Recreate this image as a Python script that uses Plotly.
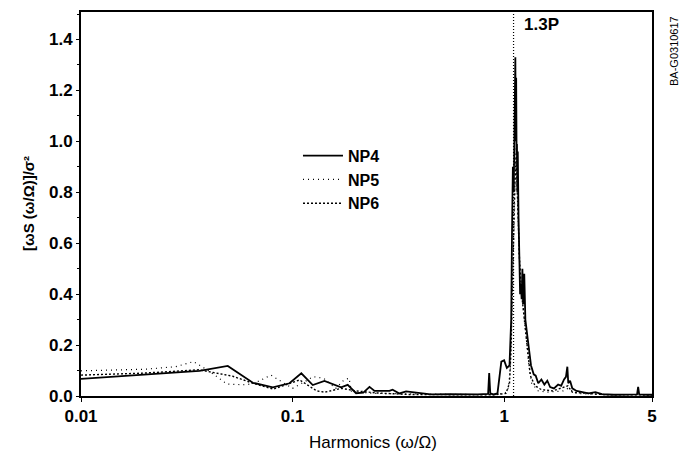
import math
import plotly.graph_objects as go

# Normalised spectra  [omega*S(omega/Omega)]/sigma^2  versus harmonic number omega/Omega
np4_harmonic = [0.01, 0.0363, 0.0494, 0.0649, 0.0807, 0.0967, 0.110, 0.1246, 0.1415, 0.1695,
                0.1823, 0.1996, 0.216, 0.231, 0.244, 0.287, 0.297, 0.320, 0.344, 0.397,
                0.45, 0.55, 0.65, 0.75, 0.84, 0.85, 0.86, 0.89, 0.93, 0.95,
                0.97, 1.00, 1.03, 1.06, 1.08, 1.09, 1.10, 1.11, 1.12, 1.13,
                1.135, 1.14, 1.145, 1.15, 1.155, 1.16, 1.17, 1.18, 1.19, 1.20,
                1.21, 1.22, 1.23, 1.245, 1.26, 1.29, 1.32, 1.34, 1.38, 1.41,
                1.45, 1.5, 1.55, 1.6, 1.65, 1.72, 1.8, 1.86, 1.92, 1.96,
                1.99, 2.01, 2.05, 2.1, 2.2, 2.35, 2.5, 2.7, 2.9, 3.3,
                4.0, 4.25, 4.3, 4.35, 4.8, 5.0]
np4_value = [0.067, 0.099, 0.118, 0.052, 0.034, 0.050, 0.089, 0.043, 0.059, 0.034,
             0.044, 0.011, 0.013, 0.036, 0.020, 0.020, 0.025, 0.010, 0.018, 0.013,
             0.006, 0.007, 0.005, 0.006, 0.008, 0.090, 0.010, 0.006, 0.010, 0.080,
             0.135, 0.140, 0.110, 0.120, 0.300, 0.650, 0.900, 0.800, 1.100, 1.330,
             1.000, 1.250, 0.950, 0.990, 0.800, 0.960, 0.700, 0.550, 0.400, 0.440,
             0.380, 0.500, 0.360, 0.480, 0.300, 0.230, 0.150, 0.120, 0.085, 0.080,
             0.050, 0.065, 0.045, 0.060, 0.035, 0.030, 0.045, 0.040, 0.065, 0.075,
             0.115, 0.050, 0.060, 0.030, 0.020, 0.015, 0.010, 0.015, 0.007, 0.005,
             0.006, 0.006, 0.036, 0.006, 0.005, 0.005]

np5_harmonic = [0.01, 0.02, 0.028, 0.034, 0.040, 0.049, 0.060, 0.066, 0.079, 0.100,
                0.118, 0.125, 0.140, 0.160, 0.175, 0.185, 0.190, 0.25, 0.4, 0.6,
                0.9, 1.0, 1.04, 1.07, 1.09, 1.11, 1.13, 1.14, 1.15, 1.17,
                1.19, 1.22, 1.25, 1.28, 1.31, 1.35, 1.45, 1.6, 1.9, 2.0,
                2.2, 3.0, 5.0]
np5_value = [0.099, 0.105, 0.115, 0.135, 0.100, 0.047, 0.044, 0.050, 0.082, 0.030,
             0.063, 0.076, 0.070, 0.030, 0.063, 0.070, 0.016, 0.010, 0.008, 0.006,
             0.005, 0.010, 0.020, 0.100, 0.350, 0.700, 0.900, 0.980, 0.850, 0.600,
             0.450, 0.380, 0.300, 0.200, 0.120, 0.050, 0.020, 0.015, 0.020, 0.030,
             0.010, 0.005, 0.005]

np6_harmonic = [0.01, 0.02, 0.036, 0.052, 0.065, 0.081, 0.090, 0.108, 0.130, 0.142,
                0.170, 0.200, 0.25, 0.35, 0.6, 0.9, 1.02, 1.06, 1.08, 1.10,
                1.12, 1.14, 1.16, 1.18, 1.21, 1.24, 1.27, 1.30, 1.33, 1.4,
                1.5, 1.7, 2.0, 2.1, 3.0, 5.0]
np6_value = [0.082, 0.090, 0.103, 0.078, 0.050, 0.027, 0.040, 0.063, 0.020, 0.015,
             0.030, 0.020, 0.012, 0.006, 0.005, 0.005, 0.010, 0.050, 0.200, 0.500,
             0.800, 0.950, 0.750, 0.550, 0.400, 0.320, 0.250, 0.150, 0.080, 0.040,
             0.025, 0.020, 0.040, 0.015, 0.005, 0.004]

x_tick_values = [0.01, 0.1, 1, 5]
x_tick_labels = ["0.01", "0.1", "1", "5"]
y_tick_values = [0.0, 0.2, 0.4, 0.6, 0.8, 1.0, 1.2, 1.4]

marker_harmonic = 1.108      # vertical reference line labelled "1.3P"
marker_label = "1.3P"

FONT = "Liberation Sans, Arial, Helvetica, sans-serif"

fig = go.Figure()
fig.add_trace(go.Scatter(x=np4_harmonic, y=np4_value, name="<b>NP4</b>", mode="lines",
                         line=dict(color="black", width=1.8)))
fig.add_trace(go.Scatter(x=np5_harmonic, y=np5_value, name="<b>NP5</b>", mode="lines",
                         line=dict(color="black", width=1.2, dash="1px,4px")))
fig.add_trace(go.Scatter(x=np6_harmonic, y=np6_value, name="<b>NP6</b>", mode="lines",
                         line=dict(color="black", width=1.4, dash="2px,2px")))

# dotted reference line at the marked harmonic
fig.add_trace(go.Scatter(x=[marker_harmonic, marker_harmonic], y=[0, 1.508],
                         mode="lines", showlegend=False, hoverinfo="skip",
                         line=dict(color="black", width=1.2, dash="1px,2px")))

fig.add_annotation(x=math.log10(marker_harmonic), y=1.46, xref="x", yref="y",
                   text=f"<b>{marker_label}</b>", showarrow=False,
                   xanchor="left", yanchor="middle", xshift=8,
                   font=dict(family=FONT, size=17, color="black"))

fig.add_annotation(x=1.0, y=1.0, xref="paper", yref="paper",
                   text="BA-G0310617", showarrow=False, textangle=-90,
                   xanchor="left", yanchor="top", xshift=14, yshift=-2,
                   font=dict(family=FONT, size=11, color="black"))

# axis titles placed as annotations so the plot frame keeps its size
fig.add_annotation(x=0.511, y=0, xref="paper", yref="paper",
                   text="Harmonics (\u03c9/\u03a9)", showarrow=False,
                   xanchor="center", yanchor="middle", yshift=-46,
                   font=dict(family=FONT, size=17, color="black"))
fig.add_annotation(x=0, y=0.5, xref="paper", yref="paper",
                   text="<b>[\u03c9S (\u03c9/\u03a9)]/\u03c3\u00b2</b>", showarrow=False,
                   textangle=-90, xanchor="center", yanchor="middle", xshift=-53,
                   font=dict(family=FONT, size=15, color="black"))

axis_common = dict(showgrid=False, zeroline=False, showline=True, linecolor="black",
                   linewidth=2, mirror=True, ticks="outside", tickcolor="black",
                   automargin=False,
                   tickfont=dict(family=FONT, size=17, color="black"))

fig.update_xaxes(type="log", range=[-2, math.log10(5)],
                 tickvals=x_tick_values, ticktext=[f"<b>{t}</b>" for t in x_tick_labels],
                 ticklen=4, tickwidth=1, **axis_common)

fig.update_yaxes(range=[0, 1.508], tickvals=y_tick_values,
                 ticktext=[f"<b>{v:.1f}</b>" for v in y_tick_values],
                 ticklen=3, tickwidth=1,
                 minor=dict(dtick=0.1, ticklen=2, tickcolor="black", ticks="outside"),
                 **axis_common)

fig.update_layout(
    width=686, height=456,
    margin=dict(l=81, r=34, t=12, b=60),
    paper_bgcolor="white", plot_bgcolor="white",
    showlegend=True,
    legend=dict(x=0.38, y=0.67, xanchor="left", yanchor="top",
                bgcolor="rgba(0,0,0,0)", borderwidth=0,
                font=dict(family=FONT, size=16, color="black"),
                itemwidth=40, tracegroupgap=0),
)

fig.write_html("out.html")
